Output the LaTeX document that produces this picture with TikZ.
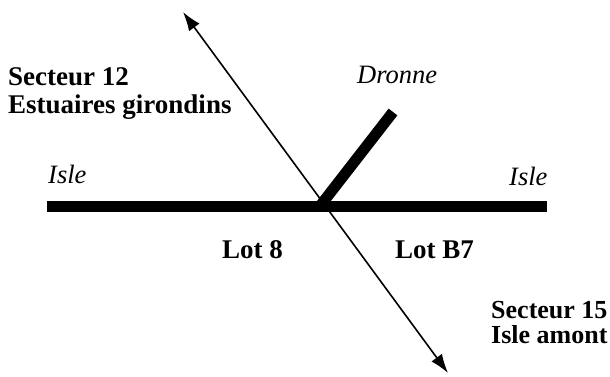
\documentclass[tikz,border=0pt]{standalone}
\usepackage{fontspec}
\setmainfont{Liberation Serif}
\usetikzlibrary{arrows.meta}
\begin{document}
\begin{tikzpicture}[x=1pt,y=-1pt,
  river/.style={line width=11pt,line cap=butt},
  flow/.style={line width=1.6pt,{Latex[length=19pt,width=13pt]}-{Latex[length=19pt,width=13pt]}},
  lab/.style={inner sep=0pt,anchor=base west,font=\fontsize{27}{29}\selectfont\bfseries},
  ilab/.style={inner sep=0pt,anchor=base west,font=\fontsize{26.5}{28}\selectfont\itshape}]
\useasboundingbox (0,0) rectangle (610,376);
\coordinate (W) at (47,206);
\coordinate (E) at (547,206);
\coordinate (J) at (320,206);
\coordinate (D) at (393,112);
\coordinate (A1) at (183,12);
\coordinate (A2) at (448,373);
\draw[river] (W) -- (E);
\draw[river] (J) -- (D);
\draw[flow] (A1) -- (A2);
\node[lab] (s12) at (8,85) {Secteur 12};
\node[lab] (eg) at (8,113) {Estuaires girondins};
\node[ilab] (dr) at (357,83) {Dronne};
\node[ilab] (il) at (48,183) {Isle};
\node[ilab] (ir) at (509,185) {Isle};
\node[lab] (l8) at (222,258) {Lot 8};
\node[lab] (lb7) at (395,258) {Lot B7};
\node[lab,font=\fontsize{26}{28}\selectfont\bfseries] (s15) at (491,318) {Secteur 15};
\node[lab,font=\fontsize{26}{28}\selectfont\bfseries] (ia) at (491,343) {Isle amont};
\end{tikzpicture}
\end{document}
